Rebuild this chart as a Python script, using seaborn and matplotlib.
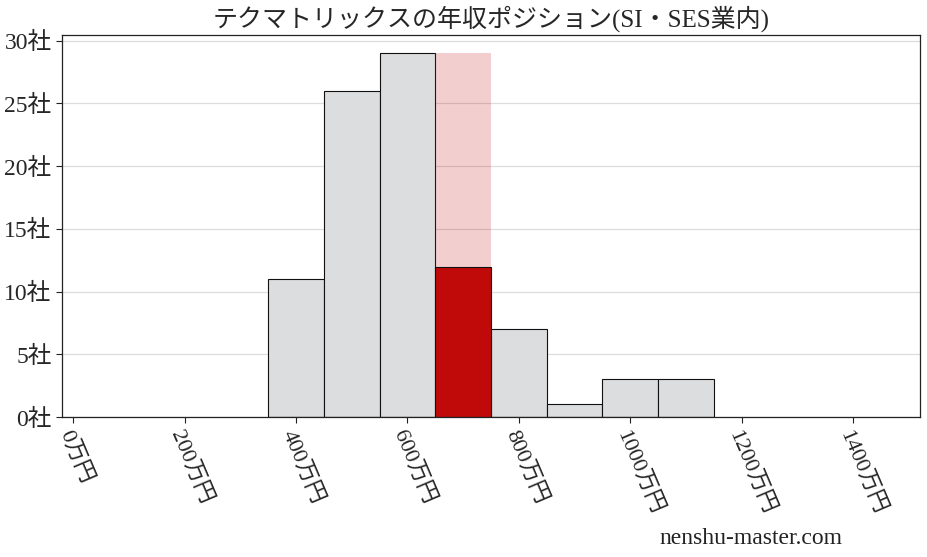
import matplotlib
matplotlib.use("Agg")
import matplotlib.pyplot as plt
import seaborn as sns
import numpy as np
import pandas as pd

# Data
bin_centers = [400, 500, 600, 700, 800, 900, 1000, 1100]
company_counts = [11, 26, 29, 12, 7, 1, 3, 3]
highlight_center = 700
xtick_values = [0, 200, 400, 600, 800, 1000, 1200, 1400]
ytick_values = [0, 5, 10, 15, 20, 25, 30]
title = "テクマトリックスの年収ポジション(SI・SES業内)"
watermark = "nenshu-master.com"

sns.set_theme(style="white")
fam = ["Liberation Serif", "Noto Sans CJK JP"]
plt.rcParams["font.family"] = fam

df = pd.DataFrame({"x": bin_centers, "n": company_counts, "peak": [max(company_counts)] * len(bin_centers)})
others = df[df.x != highlight_center]
hl = df[df.x == highlight_center]
binw = 100
edges = [float(e) for e in np.arange(min(bin_centers) - binw / 2, max(bin_centers) + binw, binw)]

fig = plt.figure(figsize=(9.28, 5.57), dpi=100)
ax = fig.add_axes([0.0668, 0.2513, 0.9246, 0.6857])
ax.set_axisbelow(True)
ax.yaxis.grid(True, color="#dddddd", linewidth=0.9)

sns.histplot(data=others, x="x", weights="n", bins=edges, ax=ax,
             color="#dcdddf", edgecolor="#111111", linewidth=0.8, alpha=1)
sns.histplot(data=hl, x="x", weights="peak", bins=edges, ax=ax,
             color="#c00a0a", alpha=0.2, linewidth=0)
sns.histplot(data=hl, x="x", weights="n", bins=edges, ax=ax,
             color="#c00a0a", edgecolor="#111111", linewidth=0.8, alpha=1)

ax.set_xlim(-20, 1520)
ax.set_ylim(0, df.n.max() * 1.05)
ax.set_xticks(xtick_values)
ax.set_xticklabels([f"{v}万円" for v in xtick_values], rotation=-67,
                   ha="left", va="top", rotation_mode="anchor", fontsize=16, family=fam)
ax.set_yticks(ytick_values)
ax.set_yticklabels([f"{v}社" for v in ytick_values], fontsize=17, family=fam)
ax.tick_params(axis="both", length=4, width=0.8, color="#222222", bottom=True, left=True)
ax.set_xlabel("")
ax.set_ylabel("")
for s in ax.spines.values():
    s.set_color("#222222")
    s.set_linewidth(0.9)
ax.set_title(title, fontsize=18, family=fam, pad=6)
fig.text(0.809, 0.033, watermark, fontsize=17, ha="center", va="center", family=fam, color="#222222")

fig.savefig("out.png", dpi=100)
